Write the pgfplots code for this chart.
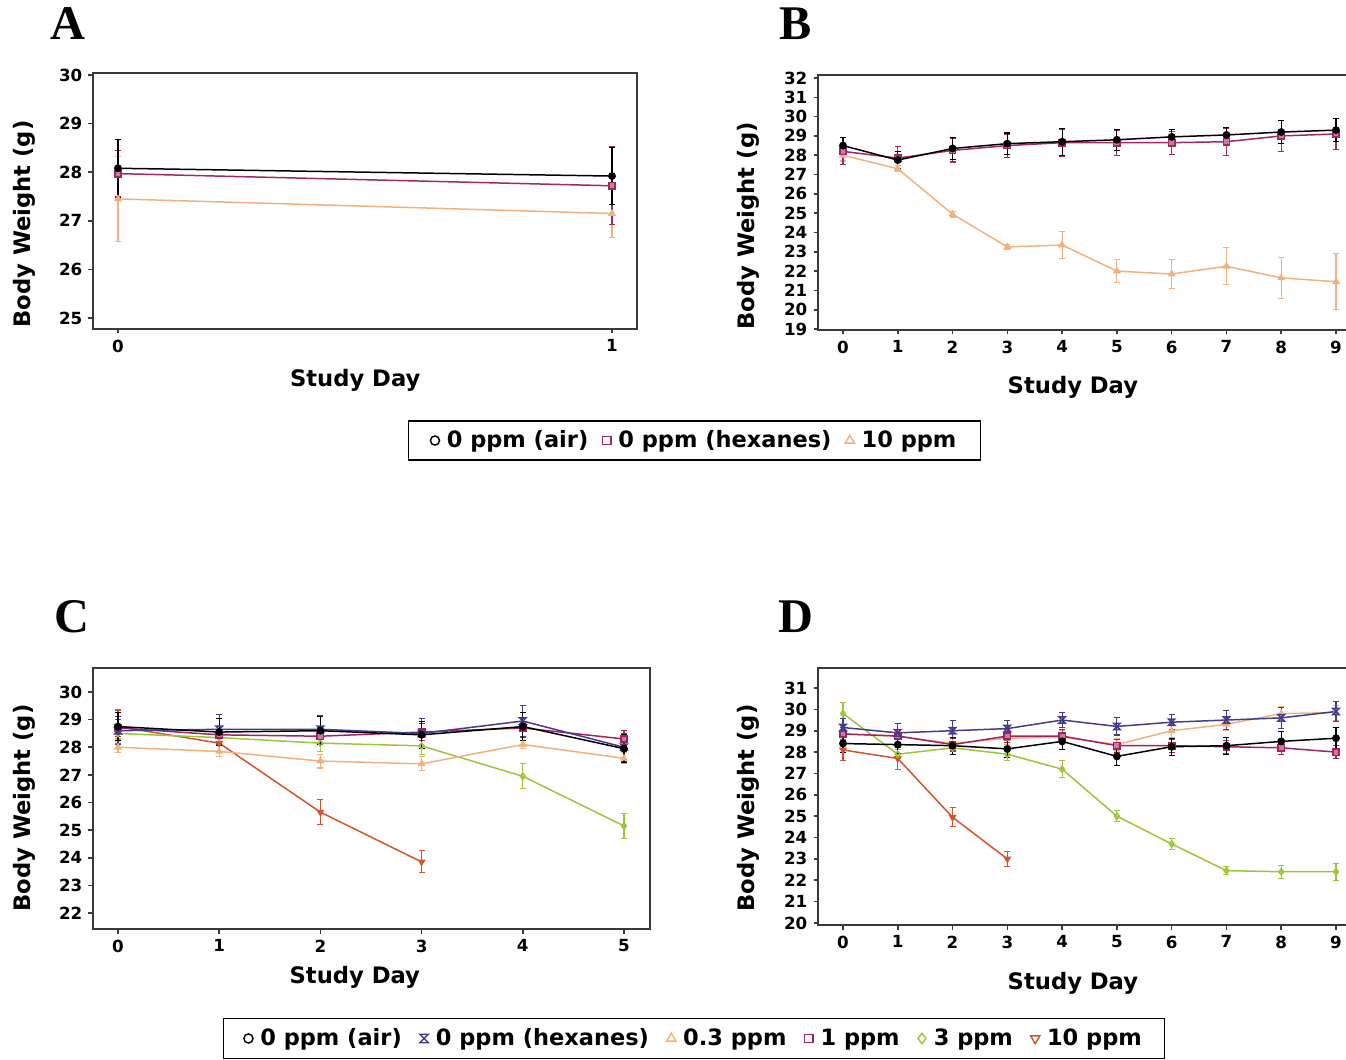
\documentclass[border=0pt]{standalone}
\usepackage{pgfplots}
\pgfplotsset{compat=1.18}
\usepackage{fontspec}
\setmainfont{DejaVu Sans}
\newfontfamily\letterfont{Liberation Serif}
\definecolor{hexab}{HTML}{9E2A62}
\definecolor{peach}{HTML}{F4B07C}
\definecolor{hexcd}{HTML}{433C8E}
\definecolor{onec}{HTML}{A3215F}
\definecolor{greenc}{HTML}{9CC43C}
\definecolor{redc}{HTML}{D4532A}
\definecolor{framec}{HTML}{3A3A3A}

\pgfdeclareplotmark{hglass}{%
  \pgfpathmoveto{\pgfqpoint{-\pgfplotmarksize}{\pgfplotmarksize}}%
  \pgfpathlineto{\pgfqpoint{\pgfplotmarksize}{\pgfplotmarksize}}%
  \pgfpathlineto{\pgfqpoint{-\pgfplotmarksize}{-\pgfplotmarksize}}%
  \pgfpathlineto{\pgfqpoint{\pgfplotmarksize}{-\pgfplotmarksize}}%
  \pgfpathclose
  \pgfusepathqstroke}

\pgfplotsset{
  panel/.style={
    scale only axis, anchor=south west,
    axis line style={draw=framec, line width=1pt},
    tick align=outside, xtick pos=left, ytick pos=left,
    major tick length=0.9mm,
    every tick/.style={framec, line width=0.9pt},
    tick label style={font=\bfseries\fontsize{9.5}{10}\selectfont},
    /pgf/number format/assume math mode=true,
    label style={font=\bfseries\fontsize{12.9}{14}\selectfont},
    xlabel={Study Day}, ylabel={Body Weight (g)},
    ytick distance=1,
    every axis plot/.append style={line width=0.85pt, mark size=1.8pt,
       /pgfplots/error bars/y dir=both, /pgfplots/error bars/y explicit,
       /pgfplots/error bars/error bar style={line width=0.6pt, solid},
       /pgfplots/error bars/error mark options={rotate=90, mark size=1.7pt, line width=0.6pt}},
  },
  legax/.style={at={(0,0)}, anchor=north west, scale only axis, width=269.2mm, height=212mm,
    hide axis, xmin=0, xmax=1, ymin=0, ymax=1,
    legend columns=-1,
    legend image code/.code={\draw[##1, line width=0.8pt] plot coordinates {(0mm,0mm)};
       \path (-1mm,0mm) (1.5mm,0mm);},
  },
}

\begin{document}
\begin{tikzpicture}
\useasboundingbox (0,0) rectangle (269.2mm,-212mm);
\clip (0,0) rectangle (269.2mm,-212mm);

% ---------------- Panel A ----------------
\begin{axis}[panel, at={(18.6mm,-65.8mm)}, width=108.8mm, height=51.2mm,
  xmin=-0.0506, xmax=1.0506, ymin=24.774, ymax=30.04, xtick={0,1},
  xlabel style={at={(axis description cs:0.482,-0.199)}, anchor=center},
  ylabel style={at={(axis description cs:-0.127,0.41)}, anchor=center}]
\addplot[peach, mark=triangle*] table[y error=e] {
x y e
0 27.45 0.88
1 27.15 0.50
};
\addplot[hexab, mark=square*, mark options={fill=hexab!60}] table[y error=e] {
x y e
0 27.97 0.48
1 27.72 0.80
};
\addplot[black, mark=*] table[y error=e] {
x y e
0 28.08 0.60
1 27.92 0.58
};
\end{axis}

% ---------------- Panel B ----------------
\begin{axis}[panel, at={(163.6mm,-66mm)}, width=116.4mm, height=51mm,
  xmin=-0.456, xmax=10.168, ymin=18.95, ymax=32.155, xtick={0,...,9},
  xlabel style={at={(axis description cs:0.438,-0.2235)}, anchor=center},
  ylabel style={at={(axis description cs:-0.120,0.408)}, anchor=center}]
\addplot[peach, mark=triangle*] table[y error=e] {
x y e
0 28.00 0.30
1 27.30 0.15
2 24.95 0.15
3 23.25 0.12
4 23.35 0.70
5 22.00 0.60
6 21.85 0.75
7 22.25 0.95
8 21.65 1.05
9 21.45 1.45
};
\addplot[hexab, mark=square*, mark options={fill=hexab!60}] table[y error=e] {
x y e
0 28.20 0.70
1 27.85 0.60
2 28.25 0.60
3 28.50 0.60
4 28.65 0.70
5 28.65 0.65
6 28.65 0.60
7 28.70 0.70
8 29.00 0.80
9 29.10 0.80
};
\addplot[black, mark=*] table[y error=e] {
x y e
0 28.50 0.40
1 27.75 0.45
2 28.35 0.55
3 28.60 0.55
4 28.70 0.70
5 28.80 0.55
6 28.95 0.40
7 29.05 0.40
8 29.20 0.60
9 29.30 0.60
};
\end{axis}

% ---------------- Panel C ----------------
\begin{axis}[panel, at={(18.6mm,-185.8mm)}, width=111.4mm, height=52.2mm,
  xmin=-0.247, xmax=5.257, ymin=21.42, ymax=30.87, xtick={0,...,5},
  xlabel style={at={(axis description cs:0.470,-0.184)}, anchor=center},
  ylabel style={at={(axis description cs:-0.124,0.4636)}, anchor=center}]
\addplot[redc, mark=triangle*, mark options={rotate=180}] table[y error=e] {
x y e
0 28.75 0.60
1 28.15 0.30
2 25.65 0.45
3 23.85 0.40
};
\addplot[greenc, mark=diamond] table[y error=e] {
x y e
0 28.50 0.20
1 28.35 0.20
2 28.15 0.30
3 28.05 0.30
4 26.95 0.45
5 25.15 0.45
};
\addplot[peach, mark=triangle*] table[y error=e] {
x y e
0 28.00 0.20
1 27.85 0.20
2 27.50 0.25
3 27.40 0.25
4 28.10 0.15
5 27.60 0.20
};
\addplot[onec, mark=square*, mark options={fill=onec!60}] table[y error=e] {
x y e
0 28.70 0.30
1 28.45 0.30
2 28.40 0.30
3 28.55 0.30
4 28.70 0.35
5 28.30 0.30
};
\addplot[hexcd, mark=hglass] table[y error=e] {
x y e
0 28.60 0.50
1 28.65 0.55
2 28.65 0.50
3 28.50 0.55
4 28.95 0.55
5 28.00 0.50
};
\addplot[black, mark=*] table[y error=e] {
x y e
0 28.75 0.50
1 28.55 0.50
2 28.60 0.50
3 28.45 0.50
4 28.75 0.50
5 27.95 0.50
};
\end{axis}

% ---------------- Panel D ----------------
\begin{axis}[panel, at={(163.6mm,-185mm)}, width=116.4mm, height=51.4mm,
  xmin=-0.456, xmax=10.168, ymin=19.906, ymax=31.936, xtick={0,...,9},
  xlabel style={at={(axis description cs:0.438,-0.2257)}, anchor=center},
  ylabel style={at={(axis description cs:-0.120,0.455)}, anchor=center}]
\addplot[redc, mark=triangle*, mark options={rotate=180}] table[y error=e] {
x y e
0 28.10 0.50
1 27.70 0.50
2 24.95 0.45
3 23.00 0.35
};
\addplot[greenc, mark=diamond] table[y error=e] {
x y e
0 29.80 0.50
1 27.90 0.20
2 28.20 0.30
3 27.90 0.30
4 27.20 0.40
5 25.00 0.25
6 23.70 0.25
7 22.45 0.20
8 22.40 0.30
9 22.40 0.40
};
\addplot[peach, mark=triangle*] table[y error=e] {
x y e
0 28.85 0.30
1 28.75 0.30
2 28.40 0.30
3 28.65 0.30
4 28.70 0.30
5 28.35 0.30
6 29.00 0.30
7 29.30 0.30
8 29.80 0.35
9 29.85 0.35
};
\addplot[onec, mark=square*, mark options={fill=onec!60}] table[y error=e] {
x y e
0 28.85 0.30
1 28.75 0.30
2 28.35 0.30
3 28.75 0.30
4 28.75 0.30
5 28.30 0.30
6 28.30 0.30
7 28.25 0.30
8 28.20 0.30
9 28.00 0.30
};
\addplot[hexcd, mark=hglass] table[y error=e] {
x y e
0 29.15 0.40
1 28.90 0.45
2 29.00 0.50
3 29.10 0.40
4 29.50 0.35
5 29.20 0.40
6 29.40 0.35
7 29.50 0.45
8 29.60 0.50
9 29.90 0.45
};
\addplot[black, mark=*] table[y error=e] {
x y e
0 28.40 0.40
1 28.35 0.40
2 28.30 0.40
3 28.15 0.40
4 28.50 0.40
5 27.80 0.45
6 28.25 0.40
7 28.30 0.40
8 28.50 0.45
9 28.65 0.50
};
\end{axis}

% ---------------- Legends ----------------
\begin{axis}[legax,
  legend style={at={(0.516,0.5844)}, anchor=center, draw=black, line width=0.9pt,
    inner xsep=4.1mm, inner ysep=1.2mm,
    font=\bfseries\fontsize{12.8}{14}\selectfont,
    /tikz/every even column/.append style={column sep=1.8mm}}]
\addlegendimage{only marks, mark=o, black, mark size=2.6pt}
\addlegendentry{0 ppm (air)}
\addlegendimage{only marks, mark=square, hexab, mark size=2.4pt}
\addlegendentry{0 ppm (hexanes)\hspace{1mm}}
\addlegendimage{only marks, mark=triangle, peach, mark size=3pt}
\addlegendentry{10 ppm\hspace{3.5mm}}
\end{axis}

\begin{axis}[legax,
  legend style={at={(0.5156,0.0203)}, anchor=center, draw=black, line width=0.9pt,
    inner xsep=3.8mm, inner ysep=1.3mm,
    font=\bfseries\fontsize{12.8}{14}\selectfont,
    /tikz/every even column/.append style={column sep=2.6mm}}]
\addlegendimage{only marks, mark=o, black, mark size=2.6pt}
\addlegendentry{0 ppm (air)}
\addlegendimage{only marks, mark=hglass, hexcd, mark size=2.4pt}
\addlegendentry{0 ppm (hexanes)\hspace{1.2mm}}
\addlegendimage{only marks, mark=triangle, peach, mark size=3pt}
\addlegendentry{0.3 ppm}
\addlegendimage{only marks, mark=square, onec, mark size=2.4pt}
\addlegendentry{1 ppm}
\addlegendimage{only marks, mark=diamond, greenc, mark size=3pt}
\addlegendentry{3 ppm\hspace{2.5mm}}
\addlegendimage{only marks, mark=triangle, redc, mark size=3pt, mark options={rotate=180}}
\addlegendentry{10 ppm}
\end{axis}

% ---------------- Panel letters ----------------
\node[font=\letterfont\bfseries\fontsize{27.5}{30}\selectfont] at (13.6mm,-4.8mm) {A};
\node[font=\letterfont\bfseries\fontsize{27.5}{30}\selectfont] at (159.2mm,-4.8mm) {B};
\node[font=\letterfont\bfseries\fontsize{27.5}{30}\selectfont] at (14.4mm,-123.4mm) {C};
\node[font=\letterfont\bfseries\fontsize{27.5}{30}\selectfont] at (159.2mm,-123.4mm) {D};
\end{tikzpicture}
\end{document}
